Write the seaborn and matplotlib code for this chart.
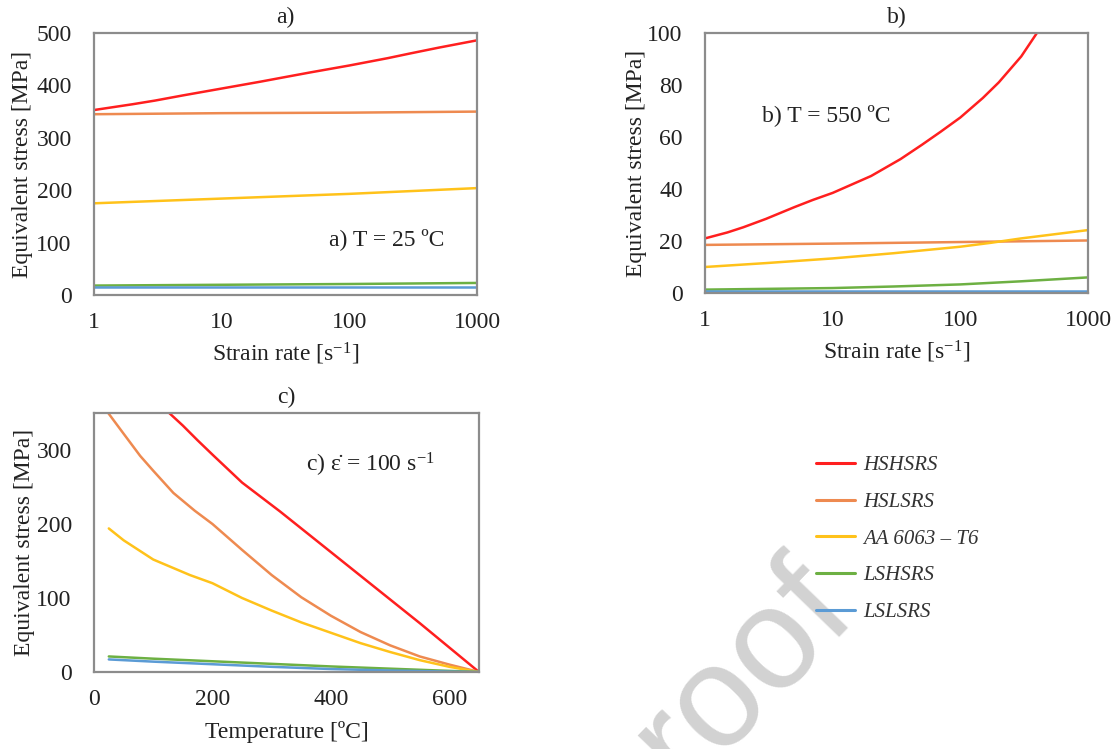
import numpy as np
import pandas as pd
import matplotlib
matplotlib.use("Agg")
import matplotlib.pyplot as plt
import seaborn as sns
from matplotlib.lines import Line2D

series = ["HSHSRS", "HSLSRS", "AA 6063 – T6", "LSHSRS", "LSLSRS"]
colors = ["#FF1F1F", "#EE8A50", "#FFC21A", "#6DB043", "#5B9BD5"]

# Panel a: T = 25 C, stress vs strain rate (log)
a_rate = {
    "HSHSRS": ([1, 2, 3, 5, 10, 20, 30, 50, 100, 200, 300, 500, 1000],
               [353, 364, 371, 381, 394, 407, 415, 425, 438, 452, 461, 472, 486]),
    "HSLSRS": ([1, 10, 100, 1000], [345, 347, 348, 350]),
    "AA 6063 – T6": ([1, 10, 100, 1000], [175, 184, 193, 204]),
    "LSHSRS": ([1, 10, 100, 1000], [18, 19.5, 21, 23]),
    "LSLSRS": ([1, 10, 100, 1000], [15, 15, 15, 15]),
}
# Panel b: T = 550 C
b_rate = {
    "HSHSRS": ([1, 1.5, 2, 3, 5, 7, 10, 15, 20, 34, 50, 70, 100, 150, 200, 300, 398],
               [21, 23.3, 25.3, 28.5, 33, 35.8, 38.5, 42.3, 45, 51.5, 57, 62, 67.5, 75, 81, 91, 100]),
    "HSLSRS": ([1, 10, 100, 1000], [18.5, 19.0, 19.6, 20.2]),
    "AA 6063 – T6": ([1, 3, 10, 30, 100, 173, 300, 1000],
                     [10, 11.5, 13.3, 15.3, 17.8, 19.3, 21, 24.2]),
    "LSHSRS": ([1, 10, 30, 100, 300, 1000], [1.3, 1.9, 2.5, 3.3, 4.5, 6.0]),
    "LSLSRS": ([1, 1000], [0.9, 0.9]),
}
# Panel c: strain rate = 100 1/s, stress vs temperature
c_temp = {
    "HSHSRS": ([127, 150, 175, 201, 250, 314, 400, 450, 500, 550, 600, 650],
               [350, 333, 313, 293, 256, 217, 162, 130, 98, 66, 33, 0]),
    "HSLSRS": ([24, 50, 78, 100, 134, 170, 200, 250, 300, 350, 400, 450, 500, 550, 600, 650],
               [350, 322, 292, 272, 242, 218, 200, 165, 131, 101, 76, 54, 36, 21, 10, 0]),
    "AA 6063 – T6": ([25, 50, 100, 162, 200, 250, 300, 350, 400, 450, 500, 550, 600, 650],
                     [194, 178, 152, 131, 120, 100, 83, 67, 53, 39, 27, 16, 7, 0]),
    "LSHSRS": ([25, 100, 200, 300, 400, 500, 600, 650], [21, 18, 14.5, 11, 7.5, 4.5, 1.5, 0]),
    "LSLSRS": ([25, 100, 200, 300, 400, 500, 600, 650], [17, 14, 10.5, 7, 4, 2, 0.5, 0]),
}

def to_df(d):
    rows = []
    for s in series:
        xs, ys = d[s]
        for x, y in zip(xs, ys):
            rows.append({"x": x, "y": y, "series": s})
    return pd.DataFrame(rows)

sns.set_theme(style="white")
plt.rcParams["font.family"] = ["Liberation Serif", "DejaVu Serif"]
plt.rcParams["mathtext.fontset"] = "custom"
plt.rcParams["mathtext.rm"] = "Liberation Serif"
plt.rcParams["mathtext.it"] = "Liberation Serif:italic"

W, H = 1117, 749
fig = plt.figure(figsize=(W / 100, H / 100), dpi=100)
fig.patch.set_facecolor("white")

# watermark fragment (behind everything)
fig.text(770 / W, 1 - 700 / H, "roof", rotation=46, rotation_mode="anchor",
         fontsize=104, color="#d2d2d2", ha="center", va="baseline",
         family="Liberation Sans", zorder=-10)

def ax_at(l, t, r, b):
    return fig.add_axes([l / W, 1 - b / H, (r - l) / W, (b - t) / H])

axA = ax_at(94, 33, 477, 295)
axB = ax_at(705, 33, 1088, 293)
axC = ax_at(94, 413, 479, 672)
for ax in (axA, axB, axC):
    ax.patch.set_alpha(0)

palette = dict(zip(series, colors))
for ax, d in [(axA, a_rate), (axB, b_rate), (axC, c_temp)]:
    sns.lineplot(data=to_df(d), x="x", y="y", hue="series", palette=palette,
                 hue_order=series, ax=ax, linewidth=1.8, legend=False,
                 estimator=None, sort=True)

fs = 17
txt = "#222222"
for ax in (axA, axB, axC):
    for sp in ax.spines.values():
        sp.set_color("#8c8c8c")
        sp.set_linewidth(1.6)
    ax.tick_params(axis="both", labelsize=fs, colors="#555555", labelcolor=txt,
                   length=4, width=1.0)
    ax.tick_params(axis="x", direction="in", pad=12)
    ax.tick_params(axis="y", direction="out", pad=12)
    ax.set_ylabel("Equivalent stress [MPa]", fontsize=fs, color=txt)

for ax in (axA, axB):
    ax.set_xscale("log")
    ax.set_xlim(1, 1000)
    ax.set_xticks([1, 10, 100, 1000])
    ax.set_xticklabels(["1", "10", "100", "1000"])
    ax.minorticks_off()
    ax.set_xlabel(r"Strain rate [s$^{\mathregular{-1}}$]", fontsize=fs, color=txt)

axA.set_ylim(0, 500)
axA.set_yticks([0, 100, 200, 300, 400, 500])
axB.set_ylim(0, 100)
axB.set_yticks([0, 20, 40, 60, 80, 100])
axC.set_xlim(0, 650)
axC.set_xticks([0, 200, 400, 600])
axC.set_ylim(0, 350)
axC.set_yticks([0, 100, 200, 300])
axC.set_xlabel("Temperature [ºC]", fontsize=fs, color=txt)

axA.yaxis.set_label_coords(-0.159, 0.5)
axB.yaxis.set_label_coords(-0.151, 0.5)
axC.yaxis.set_label_coords(-0.153, 0.5)
axA.xaxis.set_label_coords(0.5, -0.175)
axB.xaxis.set_label_coords(0.5, -0.175)
axC.xaxis.set_label_coords(0.5, -0.19)

for ax, t in [(axA, "a)"), (axB, "b)"), (axC, "c)")]:
    ax.set_title(t, fontsize=fs, color=txt, pad=7)

axA.text(0.6136, 0.2137, "a) T = 25 ºC", transform=axA.transAxes, fontsize=fs,
         color=txt, va="center", ha="left")
axB.text(0.149, 0.685, "b) T = 550 ºC", transform=axB.transAxes, fontsize=fs,
         color=txt, va="center", ha="left")
axC.text(0.551, 0.799, "c) ε\u0307 = 100 s$^{\\mathregular{-1}}$", transform=axC.transAxes,
         fontsize=fs, color=txt, va="center", ha="left")

# legend
handles = [Line2D([0], [0], color=c, lw=2.2) for c in colors]
leg = fig.legend(handles, series, loc="upper left",
                 bbox_to_anchor=(797 / W, 1 - 437 / H), frameon=False,
                 prop={"family": "Liberation Serif", "style": "italic", "size": 15},
                 labelspacing=0.82, handlelength=1.88, handletextpad=0.40)
for t in leg.get_texts():
    t.set_color("#333333")

fig.savefig("out.png", dpi=100, facecolor="white")
